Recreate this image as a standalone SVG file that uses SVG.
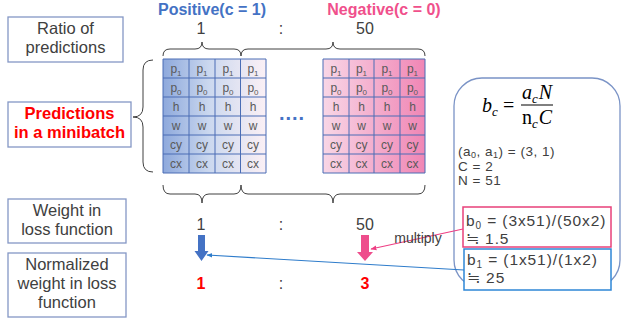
<svg xmlns="http://www.w3.org/2000/svg" width="621" height="323" viewBox="0 0 621 323">
<defs>
<linearGradient id="gPos" x1="0" y1="0" x2="1" y2="0">
<stop offset="0" stop-color="#8EA9DC"/>
<stop offset="0.45" stop-color="#CBD8EF"/>
<stop offset="1" stop-color="#FBF0F5"/>
</linearGradient>
<linearGradient id="gNeg" x1="0" y1="0" x2="1" y2="0">
<stop offset="0" stop-color="#F8D6E6"/>
<stop offset="1" stop-color="#F086B5"/>
</linearGradient>
<marker id="mPink" viewBox="0 0 10 10" refX="9" refY="5" markerWidth="5" markerHeight="5" orient="auto">
<path d="M0,1 L10,5 L0,9 Z" fill="#EE3F84"/>
</marker>
<marker id="mBlue" viewBox="0 0 10 10" refX="9" refY="5" markerWidth="5" markerHeight="5" orient="auto">
<path d="M0,1 L10,5 L0,9 Z" fill="#2E7CCB"/>
</marker>
</defs>
<style>
.lbox{fill:#fff;stroke:#8497C5;stroke-width:1.3}
.lt{font-family:"Liberation Sans","Noto Sans CJK JP",sans-serif;font-size:16.5px;fill:#404040;text-anchor:middle}
.brace{fill:none;stroke:#404040;stroke-width:1}
.grid{fill:none;stroke:#4A6DB5;stroke-width:1}
.ct{font-family:"Liberation Sans","Noto Sans CJK JP",sans-serif;font-size:12px;fill:#595959;text-anchor:middle}
.sub{font-size:8px}
.num{font-family:"Liberation Sans","Noto Sans CJK JP",sans-serif;font-size:16px;fill:#404040;text-anchor:middle}
.red{fill:#FF0000;font-weight:bold}
.rt{font-family:"Liberation Sans","Noto Sans CJK JP",sans-serif;font-size:13.5px;fill:#404040;letter-spacing:0.5px}
.bt{font-family:"Liberation Sans","Noto Sans CJK JP",sans-serif;font-size:15.5px;fill:#404040;letter-spacing:0.9px}
.math{font-family:"Liberation Serif","DejaVu Serif",serif;font-style:italic;font-size:20px;fill:#000}
</style>

<g id="titles">
<text x="212" y="15" font-family="Liberation Sans, sans-serif" font-size="16" font-weight="bold" fill="#4472C4" text-anchor="middle">Positive(c = 1)</text>
<text x="384" y="15" font-family="Liberation Sans, sans-serif" font-size="16" font-weight="bold" fill="#F0508C" text-anchor="middle">Negative(c = 0)</text>
</g>

<g id="box-ratio">
<rect class="lbox" x="8" y="17" width="115" height="45"/>
<text class="lt" x="65.5" y="34">Ratio of</text>
<text class="lt" x="65.5" y="53">predictions</text>
</g>
<g id="box-pred">
<rect class="lbox" x="8" y="102" width="123" height="45"/>
<text class="lt red" x="69.5" y="119">Predictions</text>
<text class="lt red" x="69.5" y="138">in a minibatch</text>
</g>
<g id="box-weight">
<rect class="lbox" x="8" y="199" width="118" height="44"/>
<text class="lt" x="67" y="216">Weight in</text>
<text class="lt" x="67" y="235">loss function</text>
</g>
<g id="box-norm">
<rect class="lbox" x="8" y="253" width="118" height="64"/>
<text class="lt" x="67" y="270">Normalized</text>
<text class="lt" x="67" y="289">weight in loss</text>
<text class="lt" x="67" y="308">function</text>
</g>

<g id="braces">
<path class="brace" d="M163,56 Q163,49 170,49 L195,49 Q202,49 202,42 Q202,49 209,49 L234,49 Q241,49 241,56"/>
<path class="brace" d="M241,56 Q241,49 248,49 L326,49 Q333,49 333,42 Q333,49 340,49 L418,49 Q425,49 425,56"/>
<path class="brace" d="M163,185 Q163,194 170,194 L195,194 Q202,194 202,203 Q202,194 209,194 L234,194 Q241,194 241,185"/>
<path class="brace" d="M241,185 Q241,194 248,194 L326,194 Q333,194 333,203 Q333,194 340,194 L418,194 Q425,194 425,185"/>
<path class="brace" d="M153,60 Q143,60 143,70 L143,107 Q143,117 133,117 Q143,117 143,127 L143,162 Q143,172 153,172"/>
</g>

<g id="ratio-top">
<text class="num" x="201" y="34">1</text>
<text class="num" x="281" y="34">:</text>
<text class="num" x="365" y="34">50</text>
</g>

<g id="grid-positive">
<rect x="163" y="59" width="103" height="114" fill="url(#gPos)"/>
<path class="grid" d="M163,59 H266 V173 H163 Z M189,59 V173 M215,59 V173 M240.5,59 V173 M163,78 H266 M163,97 H266 M163,116 H266 M163,135 H266 M163,154 H266"/>
<g class="ct">
<text x="176" y="73">p<tspan class="sub" dy="3">1</tspan></text>
<text x="202" y="73">p<tspan class="sub" dy="3">1</tspan></text>
<text x="228" y="73">p<tspan class="sub" dy="3">1</tspan></text>
<text x="253" y="73">p<tspan class="sub" dy="3">1</tspan></text>
<text x="176" y="92">p<tspan class="sub" dy="3">0</tspan></text>
<text x="202" y="92">p<tspan class="sub" dy="3">0</tspan></text>
<text x="228" y="92">p<tspan class="sub" dy="3">0</tspan></text>
<text x="253" y="92">p<tspan class="sub" dy="3">0</tspan></text>
<text x="176" y="111">h</text><text x="202" y="111">h</text><text x="228" y="111">h</text><text x="253" y="111">h</text>
<text x="176" y="130">w</text><text x="202" y="130">w</text><text x="228" y="130">w</text><text x="253" y="130">w</text>
<text x="176" y="149">cy</text><text x="202" y="149">cy</text><text x="228" y="149">cy</text><text x="253" y="149">cy</text>
<text x="176" y="168">cx</text><text x="202" y="168">cx</text><text x="228" y="168">cx</text><text x="253" y="168">cx</text>
</g>
</g>

<g id="ellipsis">
<text x="292" y="120" font-family="Liberation Sans, sans-serif" font-size="20" font-weight="bold" fill="#4472C4" text-anchor="middle" letter-spacing="1">....</text>
</g>

<g id="grid-negative">
<rect x="323" y="59" width="102" height="114" fill="url(#gNeg)"/>
<path class="grid" d="M323,59 H425 V173 H323 Z M349,59 V173 M374,59 V173 M400,59 V173 M323,78 H425 M323,97 H425 M323,116 H425 M323,135 H425 M323,154 H425"/>
<g class="ct">
<text x="336" y="73">p<tspan class="sub" dy="3">1</tspan></text>
<text x="361.5" y="73">p<tspan class="sub" dy="3">1</tspan></text>
<text x="387" y="73">p<tspan class="sub" dy="3">1</tspan></text>
<text x="412.5" y="73">p<tspan class="sub" dy="3">1</tspan></text>
<text x="336" y="92">p<tspan class="sub" dy="3">0</tspan></text>
<text x="361.5" y="92">p<tspan class="sub" dy="3">0</tspan></text>
<text x="387" y="92">p<tspan class="sub" dy="3">0</tspan></text>
<text x="412.5" y="92">p<tspan class="sub" dy="3">0</tspan></text>
<text x="336" y="111">h</text><text x="361.5" y="111">h</text><text x="387" y="111">h</text><text x="412.5" y="111">h</text>
<text x="336" y="130">w</text><text x="361.5" y="130">w</text><text x="387" y="130">w</text><text x="412.5" y="130">w</text>
<text x="336" y="149">cy</text><text x="361.5" y="149">cy</text><text x="387" y="149">cy</text><text x="412.5" y="149">cy</text>
<text x="336" y="168">cx</text><text x="361.5" y="168">cx</text><text x="387" y="168">cx</text><text x="412.5" y="168">cx</text>
</g>
</g>

<g id="weights">
<text class="num" x="201" y="230">1</text>
<text class="num" x="281" y="230">:</text>
<text class="num" x="365" y="230">50</text>
</g>

<g id="arrow-blue">
<path d="M198,235 H205 V251 H208.5 L201.5,261 L194.5,251 H198 Z" fill="#4472C4"/>
</g>
<g id="arrow-pink">
<path d="M361,235 H369 V252 H373 L365,261 L357,252 H361 Z" fill="#EE4D8C"/>
</g>

<g id="normalized">
<text class="num red" x="201" y="289">1</text>
<text class="num" x="281" y="289">:</text>
<text class="num red" x="365" y="289">3</text>
</g>

<g id="formula-panel">
<rect x="454" y="78" width="166" height="210" rx="28" ry="28" fill="#fff" stroke="#7A93C6" stroke-width="1.3"/>
<text class="math" x="482" y="112">b<tspan font-size="13" dy="4">c</tspan></text>
<text x="503" y="112" font-family="Liberation Serif, serif" font-size="20" fill="#000">=</text>
<text class="math" x="522" y="99">a<tspan font-size="13" dy="4">c</tspan><tspan dy="-4" dx="1">N</tspan></text>
<line x1="521" y1="105" x2="553" y2="105" stroke="#000" stroke-width="1"/>
<text class="math" x="522" y="124"><tspan font-style="normal">n</tspan><tspan font-size="13" dy="4">c</tspan><tspan dy="-4" dx="1">C</tspan></text>
<text class="rt" x="458" y="156">(a<tspan font-size="9" dy="2">0</tspan><tspan dy="-2">, a</tspan><tspan font-size="9" dy="2">1</tspan><tspan dy="-2">) = (3, 1)</tspan></text>
<text class="rt" x="458" y="171">C = 2</text>
<text class="rt" x="458" y="185">N = 51</text>
</g>

<g id="box-b0">
<rect x="463" y="207" width="148" height="40" fill="#fff" stroke="#E8407A" stroke-width="1.5"/>
<text class="bt" x="466" y="226">b<tspan font-size="10" dy="3">0</tspan><tspan dy="-3"> = (3x51)/(50x2)</tspan></text>
<text class="bt" x="466" y="244">≒ 1.5</text>
</g>
<g id="box-b1">
<rect x="464" y="249" width="147" height="41" fill="#fff" stroke="#2E86D6" stroke-width="1.5"/>
<text class="bt" x="467" y="265">b<tspan font-size="10" dy="3">1</tspan><tspan dy="-3"> = (1x51)/(1x2)</tspan></text>
<text class="bt" x="467" y="283">≒ 25</text>
</g>

<g id="connectors">
<line x1="463" y1="229" x2="371" y2="249" stroke="#EE3F84" stroke-width="1.2" marker-end="url(#mPink)"/>
<line x1="464" y1="270" x2="207" y2="255" stroke="#2E7CCB" stroke-width="1.2" marker-end="url(#mBlue)"/>
<text x="418" y="243" font-family="Liberation Sans, sans-serif" font-size="14" fill="#404040" text-anchor="middle">multiply</text>
</g>
</svg>
